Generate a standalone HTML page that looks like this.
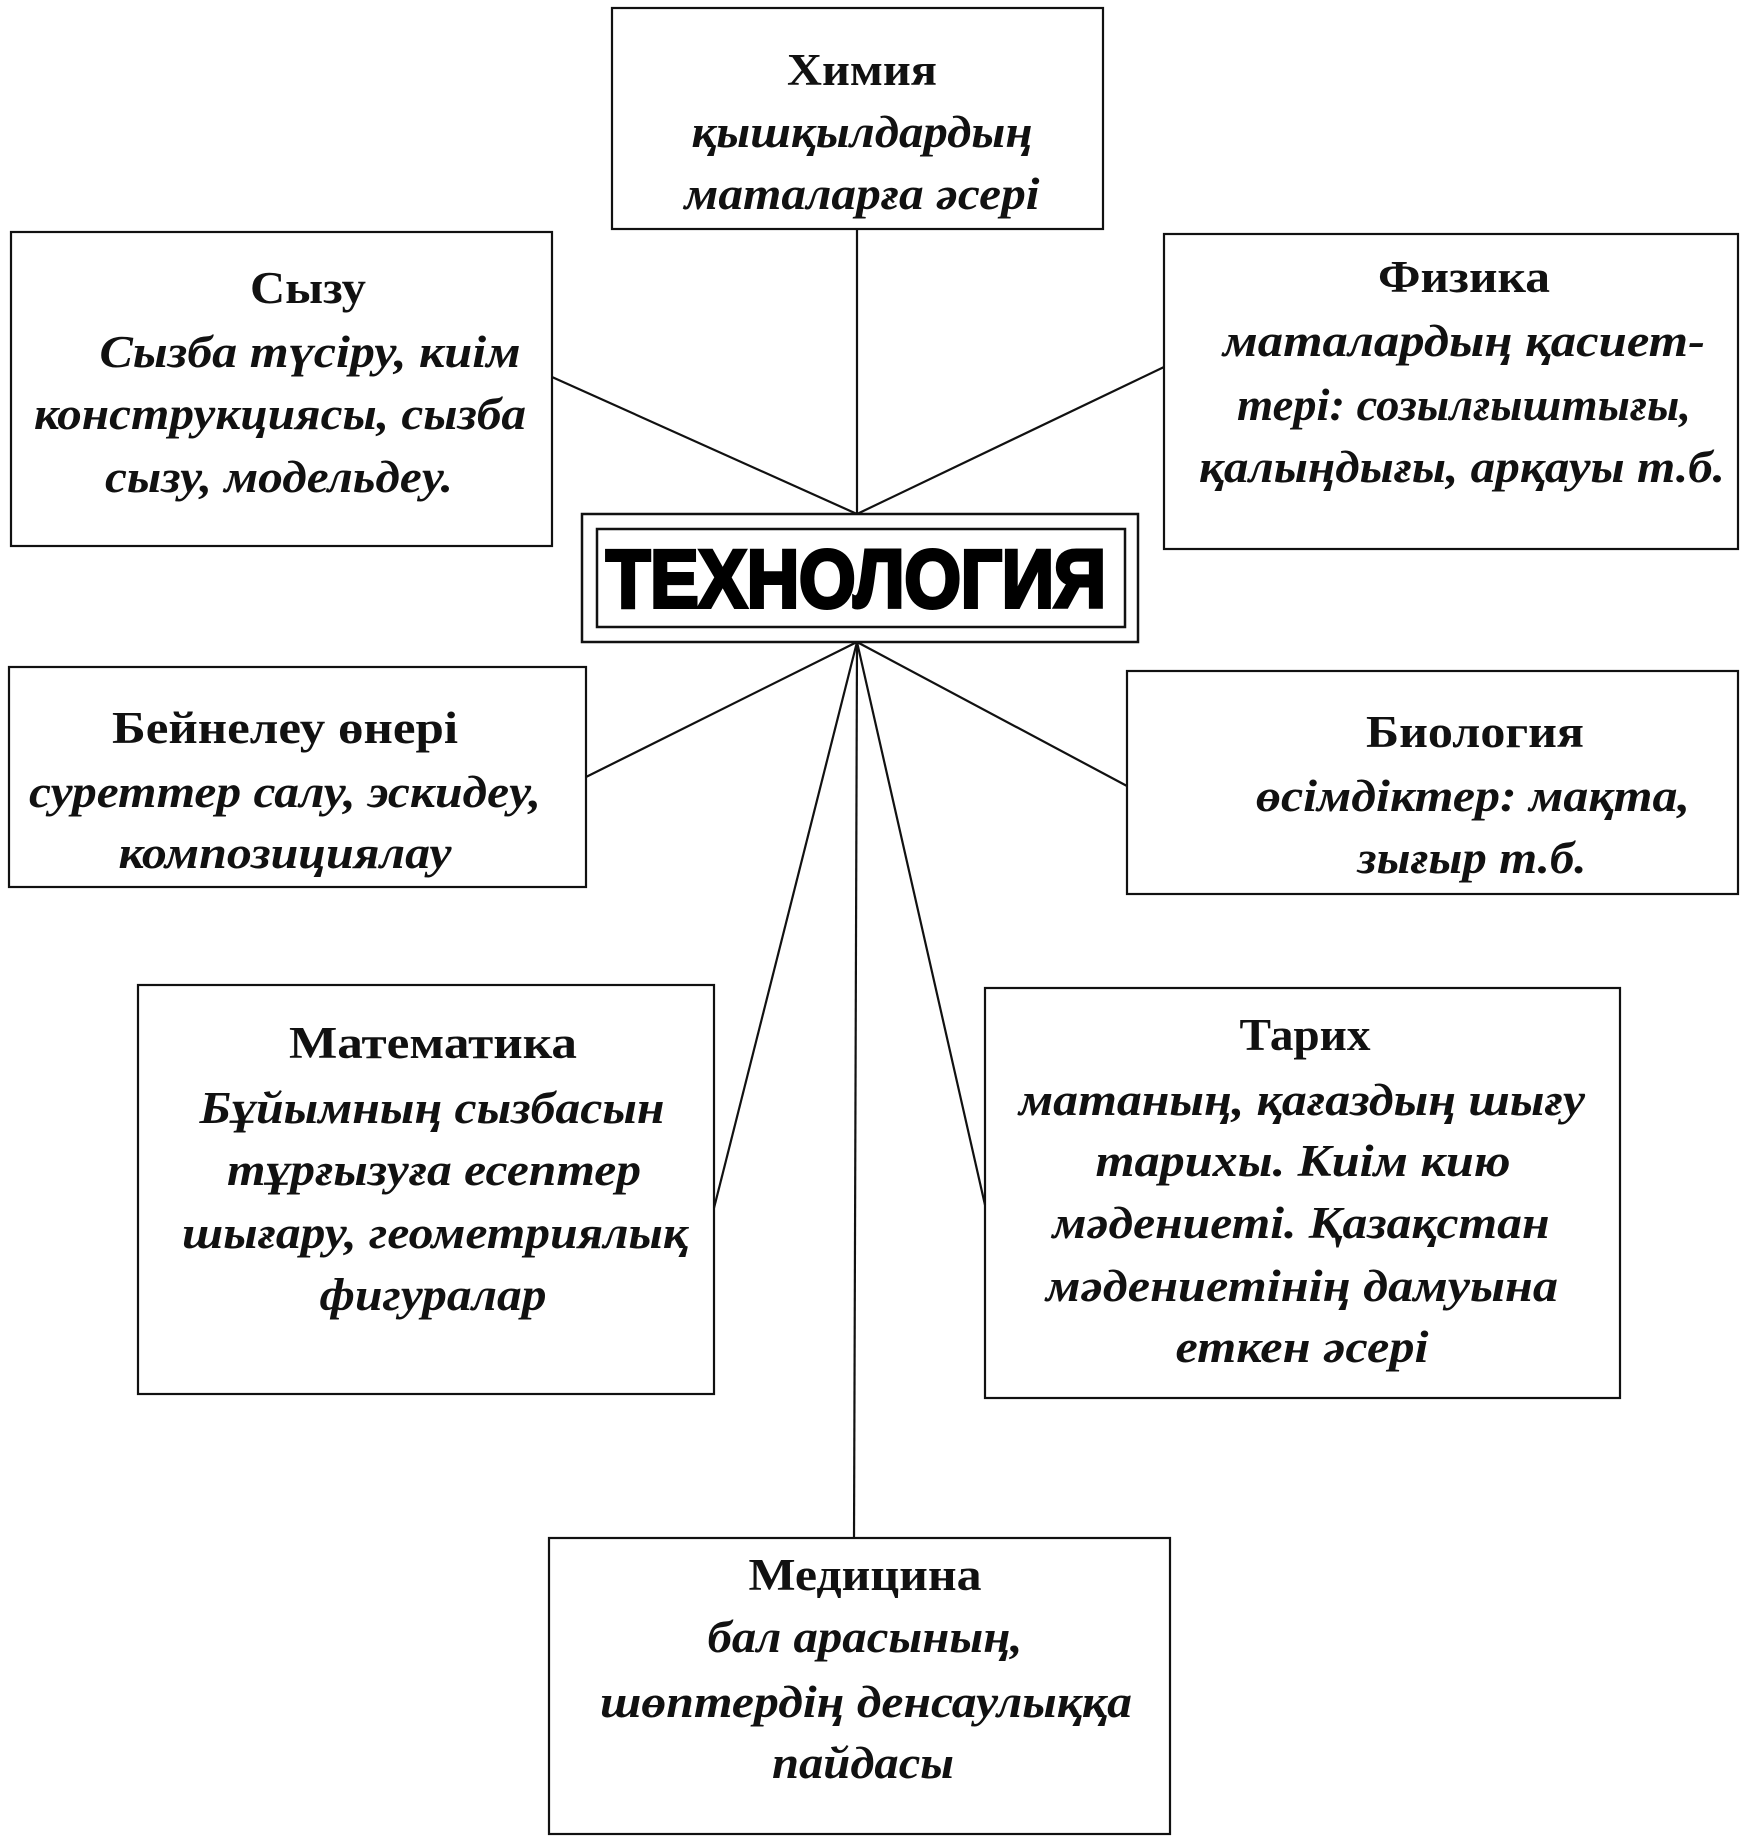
<!DOCTYPE html>
<html><head><meta charset="utf-8"><style>
html,body{margin:0;padding:0;background:#fff;}
svg{display:block;}
.t{font-family:"Liberation Serif",serif;font-weight:bold;font-size:45px;fill:#111;}
.i{font-family:"Liberation Serif",serif;font-weight:bold;font-style:italic;font-size:45px;fill:#111;}
</style></head><body>
<svg width="1752" height="1844" viewBox="0 0 1752 1844" xmlns="http://www.w3.org/2000/svg">
<g stroke="#111" stroke-width="2.2" fill="none">
<rect x="612" y="8" width="491" height="221"/>
<rect x="11" y="232" width="541" height="314"/>
<rect x="1164" y="234" width="574" height="315"/>
<rect x="582" y="514" width="556" height="128" stroke-width="2.5"/>
<rect x="597" y="529" width="528" height="98" stroke-width="2.5"/>
<rect x="9" y="667" width="577" height="220"/>
<rect x="1127" y="671" width="611" height="223"/>
<rect x="138" y="985" width="576" height="409"/>
<rect x="985" y="988" width="635" height="410"/>
<rect x="549" y="1538" width="621" height="296"/>
<line x1="857" y1="229" x2="857" y2="514"/>
<line x1="552" y1="377" x2="857" y2="514"/>
<line x1="1164" y1="367" x2="857" y2="514"/>
<line x1="857" y1="642" x2="586" y2="777"/>
<line x1="857" y1="642" x2="1127" y2="786"/>
<line x1="857" y1="642" x2="714" y2="1208"/>
<line x1="857" y1="642" x2="985" y2="1205"/>
<line x1="857" y1="642" x2="854" y2="1538"/>
</g>
<text x="856" y="607" text-anchor="middle" font-family="Liberation Sans,sans-serif" font-weight="bold" font-size="82" textLength="500" lengthAdjust="spacingAndGlyphs" fill="#000" stroke="#000" stroke-width="4">ТЕХНОЛОГИЯ</text>
<g text-anchor="middle">
<text class="t" x="862" y="85" textLength="150" lengthAdjust="spacingAndGlyphs">Химия</text>
<text class="i" x="862" y="147" textLength="341" lengthAdjust="spacingAndGlyphs">қышқылдардың</text>
<text class="i" x="862" y="209" textLength="355" lengthAdjust="spacingAndGlyphs">маталарға әсері</text>

<text class="t" x="308" y="303" textLength="116" lengthAdjust="spacingAndGlyphs">Сызу</text>
<text class="i" x="310" y="367" textLength="421" lengthAdjust="spacingAndGlyphs">Сызба түсіру, киім</text>
<text class="i" x="280" y="429" textLength="492" lengthAdjust="spacingAndGlyphs">конструкциясы, сызба</text>
<text class="i" x="279" y="492" textLength="348" lengthAdjust="spacingAndGlyphs">сызу, модельдеу.</text>

<text class="t" x="1464" y="292" textLength="172" lengthAdjust="spacingAndGlyphs">Физика</text>
<text class="i" x="1464" y="356" textLength="482" lengthAdjust="spacingAndGlyphs">маталардың  қасиет-</text>
<text class="i" x="1464" y="420" textLength="454" lengthAdjust="spacingAndGlyphs">тері: созылғыштығы,</text>
<text class="i" x="1462" y="482" textLength="526" lengthAdjust="spacingAndGlyphs">қалыңдығы, арқауы т.б.</text>

<text class="t" x="285" y="743" textLength="346" lengthAdjust="spacingAndGlyphs">Бейнелеу  өнері</text>
<text class="i" x="285" y="807" textLength="512" lengthAdjust="spacingAndGlyphs">суреттер салу, эскидеу,</text>
<text class="i" x="285" y="868" textLength="333" lengthAdjust="spacingAndGlyphs">композициялау</text>

<text class="t" x="1475" y="747" textLength="218" lengthAdjust="spacingAndGlyphs">Биология</text>
<text class="i" x="1473" y="811" textLength="434" lengthAdjust="spacingAndGlyphs">өсімдіктер: мақта,</text>
<text class="i" x="1472" y="873" textLength="229" lengthAdjust="spacingAndGlyphs">зығыр т.б.</text>

<text class="t" x="433" y="1058" textLength="288" lengthAdjust="spacingAndGlyphs">Математика</text>
<text class="i" x="432" y="1123" textLength="465" lengthAdjust="spacingAndGlyphs">Бұйымның сызбасын</text>
<text class="i" x="434" y="1185" textLength="414" lengthAdjust="spacingAndGlyphs">тұрғызуға есептер</text>
<text class="i" x="435" y="1248" textLength="506" lengthAdjust="spacingAndGlyphs">шығару, геометриялық</text>
<text class="i" x="433" y="1310" textLength="227" lengthAdjust="spacingAndGlyphs">фигуралар</text>

<text class="t" x="1305" y="1050" textLength="131" lengthAdjust="spacingAndGlyphs">Тарих</text>
<text class="i" x="1302" y="1115" textLength="566" lengthAdjust="spacingAndGlyphs">матаның, қағаздың шығу</text>
<text class="i" x="1303" y="1176" textLength="415" lengthAdjust="spacingAndGlyphs">тарихы. Киім кию</text>
<text class="i" x="1301" y="1238" textLength="497" lengthAdjust="spacingAndGlyphs">мәдениеті. Қазақстан</text>
<text class="i" x="1302" y="1301" textLength="512" lengthAdjust="spacingAndGlyphs">мәдениетінің дамуына</text>
<text class="i" x="1302" y="1362" textLength="253" lengthAdjust="spacingAndGlyphs">еткен әсері</text>

<text class="t" x="865" y="1590" textLength="233" lengthAdjust="spacingAndGlyphs">Медицина</text>
<text class="i" x="865" y="1652" textLength="315" lengthAdjust="spacingAndGlyphs">бал арасының,</text>
<text class="i" x="866" y="1717" textLength="532" lengthAdjust="spacingAndGlyphs">шөптердің денсаулыққа</text>
<text class="i" x="863" y="1778" textLength="182" lengthAdjust="spacingAndGlyphs">пайдасы</text>
</g>
</svg>
</body></html>
